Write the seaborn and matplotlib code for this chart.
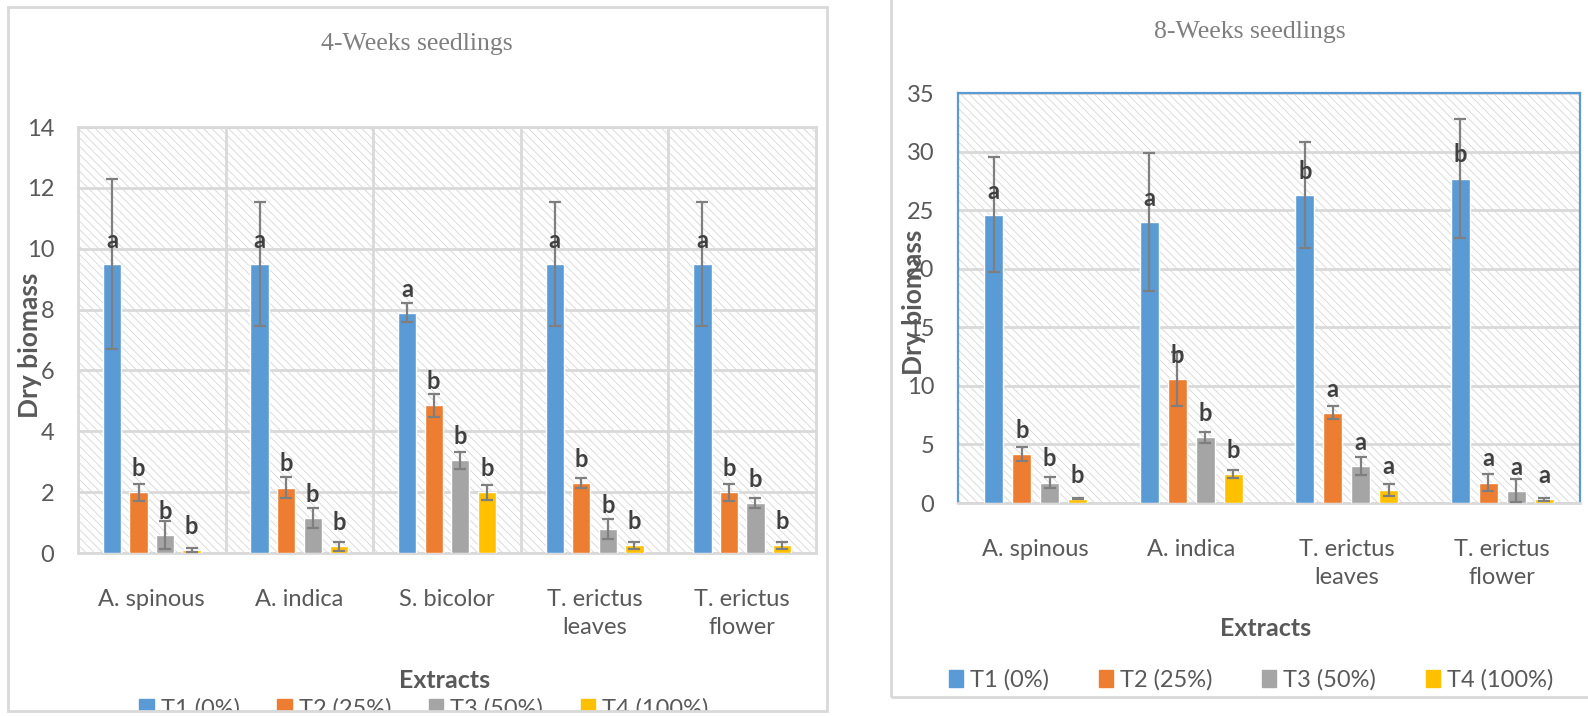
import matplotlib.pyplot as plt
import matplotlib.patches as mpatches
import seaborn as sns
import pandas as pd
import numpy as np

# DATA
treatments = ["T1 (0%)", "T2 (25%)", "T3 (50%)", "T4 (100%)"]
colors = ["#5B9BD5", "#ED7D31", "#A5A5A5", "#FFC000"]

# 4-week seedlings
extracts_4w = ["A. spinous", "A. indica", "S. bicolor", "T. erictus\nleaves", "T. erictus\nflower"]
t1_4w = [9.5, 9.5, 7.9, 9.5, 9.5]
t2_4w = [2.0, 2.15, 4.85, 2.3, 2.0]
t3_4w = [0.6, 1.15, 3.05, 0.8, 1.65]
t4_4w = [0.1, 0.22, 2.0, 0.25, 0.25]
e1_4w = [2.8, 2.05, 0.3, 2.05, 2.05]
e2_4w = [0.28, 0.34, 0.37, 0.18, 0.28]
e3_4w = [0.46, 0.33, 0.28, 0.33, 0.17]
e4_4w = [0.06, 0.15, 0.25, 0.12, 0.12]
l1_4w = ["a", "a", "a", "a", "a"]
l2_4w = ["b", "b", "b", "b", "b"]
l3_4w = ["b", "b", "b", "b", "b"]
l4_4w = ["b", "b", "b", "b", "b"]

# 8-week seedlings
extracts_8w = ["A. spinous", "A. indica", "T. erictus\nleaves", "T. erictus\nflower"]
t1_8w = [24.6, 24.0, 26.3, 27.7]
t2_8w = [4.2, 10.6, 7.7, 1.75]
t3_8w = [1.75, 5.6, 3.15, 1.05]
t4_8w = [0.35, 2.45, 1.1, 0.3]
e1_8w = [4.9, 5.9, 4.5, 5.1]
e2_8w = [0.6, 2.3, 0.55, 0.72]
e3_8w = [0.45, 0.45, 0.75, 1.0]
e4_8w = [0.05, 0.33, 0.48, 0.1]
l1_8w = ["a", "a", "b", "b"]
l2_8w = ["b", "b", "a", "a"]
l3_8w = ["b", "b", "a", "a"]
l4_8w = ["b", "b", "a", "a"]

sns.set_style("white")
plt.rcParams["font.family"] = ["Lato", "DejaVu Sans"]
plt.rcParams["hatch.color"] = "#d6d6d6"
plt.rcParams["hatch.linewidth"] = 0.6

TXT = "#595959"
GRID = "#d9d9d9"
FS = 17


def long_table(extracts, series):
    rows = []
    for t, vals in zip(treatments, series):
        for e, v in zip(extracts, vals):
            rows.append({"extract": e, "treatment": t, "value": v})
    return pd.DataFrame(rows)


def draw_panel(ax, extracts, series, errs, letters, ymax, ystep, frame_color, vlines):
    df = long_table(extracts, series)
    ax.add_patch(mpatches.Rectangle((0, 0), 1, 1, transform=ax.transAxes,
                                    facecolor="white", edgecolor="#d6d6d6",
                                    hatch="\\\\\\\\", lw=0, zorder=0))
    sns.barplot(data=df, x="extract", y="value", hue="treatment",
                hue_order=treatments, order=extracts, palette=colors,
                width=0.72, gap=0.31, errorbar=None, saturation=1,
                legend=False, ax=ax, zorder=3)
    for cont, er, lab in zip(ax.containers, errs, letters):
        for bar, e, l in zip(cont, er, lab):
            x = bar.get_x() + bar.get_width() / 2
            h = bar.get_height()
            ax.errorbar(x, h, yerr=e, color="#7f7f7f", capsize=4,
                        elinewidth=1.6, capthick=1.6, zorder=4)
            ax.annotate(l, (x, h), xytext=(0, 17), textcoords="offset points",
                        ha="center", va="center", fontsize=17,
                        fontweight="bold", color="#404040", zorder=5)
    ax.set_ylim(0, ymax)
    ax.set_xlim(-0.5, len(extracts) - 0.5)
    ax.set_yticks(np.arange(0, ymax + 0.1, ystep))
    ax.set_xticks(range(len(extracts)), labels=extracts, linespacing=1.4)
    ax.set_axisbelow(True)
    ax.yaxis.grid(True, color=GRID, lw=2)
    if vlines:
        for b in np.arange(0.5, len(extracts) - 0.5):
            ax.axvline(b, color=GRID, lw=2, zorder=0.5)
    ax.tick_params(axis="y", length=0, pad=17, labelsize=FS, labelcolor=TXT)
    ax.tick_params(axis="x", length=0, pad=26, labelsize=FS, labelcolor=TXT)
    for s in ax.spines.values():
        s.set_color(frame_color)
        s.set_linewidth(1.6 if frame_color != GRID else 2)
    ax.spines["bottom"].set_color(GRID)
    ax.spines["bottom"].set_linewidth(2)
    ax.set_xlabel("")
    ax.set_ylabel("")


W, H = 1588, 716
fig = plt.figure(figsize=(W / 100, H / 100), dpi=100)


def px_axes(x0, y0, x1, y1):
    return fig.add_axes([x0 / W, 1 - y1 / H, (x1 - x0) / W, (y1 - y0) / H])


# left panel
ax1 = px_axes(78, 127, 816, 553)
draw_panel(ax1, extracts_4w, [t1_4w, t2_4w, t3_4w, t4_4w],
           [e1_4w, e2_4w, e3_4w, e4_4w], [l1_4w, l2_4w, l3_4w, l4_4w],
           14, 2, GRID, True)
fig.text(30 / W, 1 - 345 / H, "Dry biomass", rotation=90, ha="center", va="center",
         fontsize=19, fontweight="bold", color=TXT)
fig.text(445 / W, 1 - 680 / H, "Extracts", ha="center", va="center",
         fontsize=18, fontweight="bold", color=TXT)
fig.text(417 / W, 1 - 44 / H, "4-Weeks seedlings", ha="center", va="center",
         fontsize=18.5, color="#7f7f7f", family="Liberation Serif")

# right panel
ax2 = px_axes(958, 93, 1580, 503)
draw_panel(ax2, extracts_8w, [t1_8w, t2_8w, t3_8w, t4_8w],
           [e1_8w, e2_8w, e3_8w, e4_8w], [l1_8w, l2_8w, l3_8w, l4_8w],
           35, 5, "#5B9BD5", False)
fig.text(914 / W, 1 - 302 / H, "Dry biomass", rotation=90, ha="center", va="center",
         fontsize=19, fontweight="bold", color=TXT)
fig.text(1266 / W, 1 - 629 / H, "Extracts", ha="center", va="center",
         fontsize=18, fontweight="bold", color=TXT)
fig.text(1250 / W, 1 - 32 / H, "8-Weeks seedlings", ha="center", va="center",
         fontsize=18.5, color="#7f7f7f", family="Liberation Serif")

# legends
handles = [mpatches.Patch(color=c, label=t) for c, t in zip(colors, treatments)]
for cx, cy, cs in [(424, 709, 1.6), (1251, 680, 2.1)]:
    fig.legend(handles=handles, loc="center", bbox_to_anchor=(cx / W, 1 - cy / H),
               ncol=4, frameon=False, fontsize=FS, handlelength=0.6,
               handleheight=0.75, handletextpad=0.3, columnspacing=cs,
               labelcolor=TXT, borderpad=0)

# white strip that clips the left legend, then panel borders
fig.add_artist(mpatches.Rectangle((0, 0), 880 / W, (H - 711) / H,
                                  transform=fig.transFigure, facecolor="white",
                                  edgecolor="none", zorder=10))
fig.add_artist(mpatches.Rectangle((8 / W, 1 - 711 / H), 819 / W, 704 / H,
                                  transform=fig.transFigure, facecolor="none",
                                  edgecolor=GRID, lw=2, zorder=11))
fig.add_artist(mpatches.Rectangle((891 / W, 1 - 697 / H), 720 / W, 710 / H,
                                  transform=fig.transFigure, facecolor="none",
                                  edgecolor=GRID, lw=2, zorder=11))

fig.savefig("out.png", dpi=100)
